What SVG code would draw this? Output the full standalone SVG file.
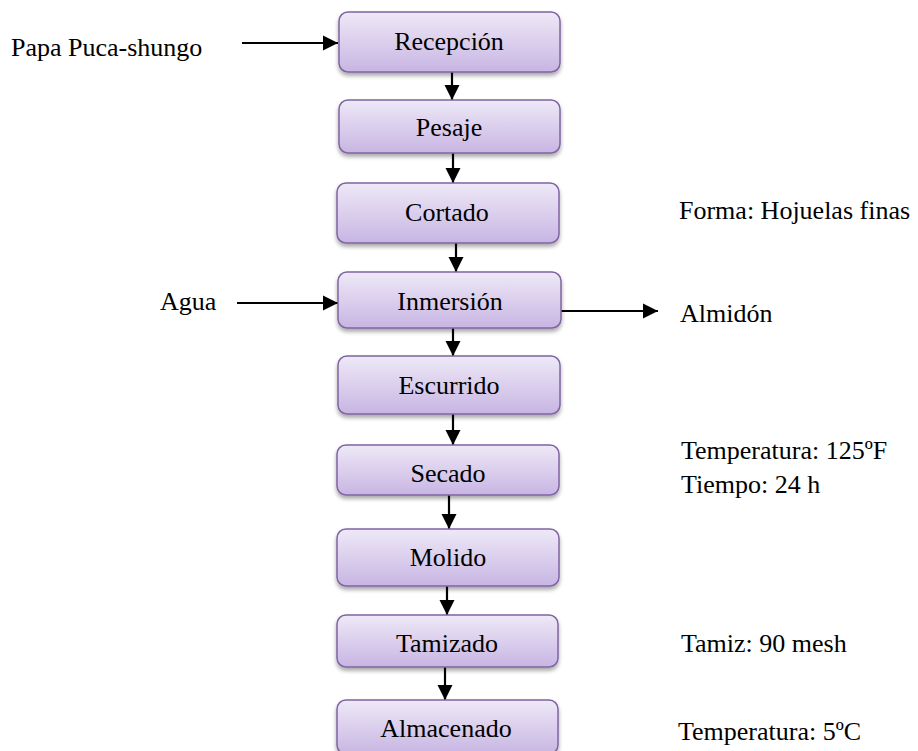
<svg xmlns="http://www.w3.org/2000/svg" width="918" height="751" viewBox="0 0 918 751">
<defs>
<linearGradient id="g" x1="0" y1="0" x2="0" y2="1">
<stop offset="0" stop-color="#eee9f7"/>
<stop offset="1" stop-color="#c8b5e3"/>
</linearGradient>
<filter id="sh" x="-10%" y="-20%" width="120%" height="150%">
<feGaussianBlur in="SourceAlpha" stdDeviation="2"/>
<feOffset dx="0" dy="3"/>
<feComponentTransfer><feFuncA type="linear" slope="0.35"/></feComponentTransfer>
<feMerge><feMergeNode/><feMergeNode in="SourceGraphic"/></feMerge>
</filter>
<marker id="ah" viewBox="0 0 10 10" refX="10" refY="5" markerWidth="7" markerHeight="7" orient="auto" markerUnits="strokeWidth">
<path d="M0,0 L10,5 L0,10 z" fill="#000"/>
</marker>
</defs>
<style>
.box{fill:url(#g);stroke:#8064a2;stroke-width:1.5;filter:url(#sh)}
.t{font-family:"Liberation Serif","Times New Roman",serif;font-size:26px;fill:#000}
.c{text-anchor:middle}
.ln{stroke:#000;stroke-width:2.2;fill:none;marker-end:url(#ah)}
</style>
<rect width="918" height="751" fill="#fff"/>
<g id="connectors">
<line class="ln" x1="242" y1="43" x2="338" y2="43"/>
<line class="ln" x1="452" y1="72" x2="452" y2="100"/>
<line class="ln" x1="453" y1="153" x2="453" y2="183"/>
<line class="ln" x1="456" y1="243" x2="456" y2="272"/>
<line class="ln" x1="237" y1="303" x2="338" y2="303"/>
<line class="ln" x1="560" y1="311" x2="658" y2="311"/>
<line class="ln" x1="453" y1="328" x2="453" y2="356"/>
<line class="ln" x1="453" y1="414" x2="453" y2="445"/>
<line class="ln" x1="449" y1="495" x2="449" y2="529"/>
<line class="ln" x1="447" y1="586" x2="447" y2="615"/>
<line class="ln" x1="445" y1="667" x2="445" y2="700"/>
</g>
<g id="recepcion"><rect class="box" x="339" y="12" width="221" height="60" rx="9"/><text class="t c" x="449" y="50">Recepción</text></g>
<g id="pesaje"><rect class="box" x="339" y="100" width="221" height="53" rx="9"/><text class="t c" x="449" y="136">Pesaje</text></g>
<g id="cortado"><rect class="box" x="337" y="183" width="222" height="60" rx="9"/><text class="t c" x="447" y="221">Cortado</text></g>
<g id="inmersion"><rect class="box" x="338" y="272" width="223" height="56" rx="9"/><text class="t c" x="450" y="310">Inmersión</text></g>
<g id="escurrido"><rect class="box" x="338" y="356" width="222" height="58" rx="9"/><text class="t c" x="449" y="394">Escurrido</text></g>
<g id="secado"><rect class="box" x="337" y="445" width="222" height="50" rx="9"/><text class="t c" x="448" y="482">Secado</text></g>
<g id="molido"><rect class="box" x="337" y="529" width="222" height="57" rx="9"/><text class="t c" x="448" y="566">Molido</text></g>
<g id="tamizado"><rect class="box" x="337" y="615" width="221" height="52" rx="9"/><text class="t c" x="447" y="652">Tamizado</text></g>
<g id="almacenado"><rect class="box" x="337" y="700" width="221" height="54" rx="9"/><text class="t c" x="446" y="737">Almacenado</text></g>
<g id="labels">
<text class="t" x="11" y="56">Papa Puca-shungo</text>
<text class="t" x="160" y="310">Agua</text>
<text class="t" x="680" y="322">Almidón</text>
<text class="t" x="679" y="219">Forma: Hojuelas finas</text>
<text class="t" x="681" y="459">Temperatura: 125ºF</text>
<text class="t" x="681" y="493">Tiempo: 24 h</text>
<text class="t" x="681" y="652">Tamiz: 90 mesh</text>
<text class="t" x="678" y="740">Temperatura: 5ºC</text>
</g>
</svg>
